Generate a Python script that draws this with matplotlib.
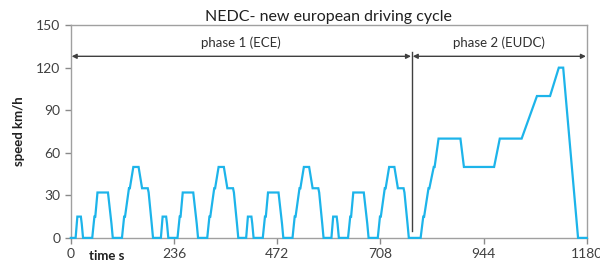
import matplotlib
matplotlib.use("Agg")
import matplotlib.pyplot as plt

# NEDC speed trace: time (s) and speed (km/h)
time_s = [
    0, 11, 15, 23, 25, 28, 49, 54, 56, 61, 85, 93, 96, 117, 122, 124, 133, 135, 143, 155, 163, 176, 178, 185, 188, 195,
    206, 210, 218, 220, 223, 244, 249, 251, 256, 280, 288, 291, 312, 317, 319, 328, 330, 338, 350, 358, 371, 373, 380, 383, 390,
    401, 405, 413, 415, 418, 439, 444, 446, 451, 475, 483, 486, 507, 512, 514, 523, 525, 533, 545, 553, 566, 568, 575, 578, 585,
    596, 600, 608, 610, 613, 634, 639, 641, 646, 670, 678, 681, 702, 707, 709, 718, 720, 728, 740, 748, 761, 763, 770, 773, 780,
    800, 806, 808, 818, 820, 830, 832, 841, 891, 899, 968, 981, 1031, 1066, 1096, 1116, 1126, 1160, 1180,
]
speed_kmh = [
    0, 0, 15, 15, 10, 0, 0, 15, 15, 32, 32, 10, 0, 0, 15, 15, 35, 35, 50, 50, 35, 35, 32, 10, 0, 0,
    0, 15, 15, 10, 0, 0, 15, 15, 32, 32, 10, 0, 0, 15, 15, 35, 35, 50, 50, 35, 35, 32, 10, 0, 0,
    0, 15, 15, 10, 0, 0, 15, 15, 32, 32, 10, 0, 0, 15, 15, 35, 35, 50, 50, 35, 35, 32, 10, 0, 0,
    0, 15, 15, 10, 0, 0, 15, 15, 32, 32, 10, 0, 0, 15, 15, 35, 35, 50, 50, 35, 35, 32, 10, 0, 0,
    0, 15, 15, 35, 35, 50, 50, 70, 70, 50, 50, 70, 70, 100, 100, 120, 120, 0, 0,
]

x_ticks = [0, 236, 472, 708, 944, 1180]
y_ticks = [0, 30, 60, 90, 120, 150]

title = "NEDC- new european driving cycle"
phase_labels = ["phase 1 (ECE)", "phase 2 (EUDC)"]
phase_bounds = [(0, 780), (780, 1180)]

plt.rcParams['font.family'] = ['Lato', 'DejaVu Sans']

fig = plt.figure(figsize=(6.0, 2.67), dpi=100)
ax = fig.add_axes([0.118, 0.109, 0.860, 0.797])

ax.plot(time_s, speed_kmh, color='#1DB4EA', lw=1.6, solid_joinstyle='miter', clip_on=False, zorder=3)

ax.set_xlim(0, 1180)
ax.set_ylim(0, 150)
ax.set_xticks(x_ticks)
ax.set_yticks(y_ticks)
ax.tick_params(colors='#8a8a8a', labelcolor='#404040', labelsize=10, length=4, width=1)
for s in ax.spines.values():
    s.set_color('#a0a0a0')
    s.set_linewidth(1.0)

ax.set_title(title, fontsize=11.5, color='#202020', pad=3)
ax.set_ylabel("speed km/h", fontsize=9.5, fontweight='bold', color='#202020', labelpad=8)
ax.text(0.035, -0.055, "time s", transform=ax.transAxes, fontsize=9.5, fontweight='bold',
        color='#202020', ha='left', va='top')

# phase arrows
arrow_y = 128
for (x0, x1), lab in zip(phase_bounds, phase_labels):
    ax.annotate('', xy=(x0 + 2, arrow_y), xytext=(x1 - 2, arrow_y),
                arrowprops=dict(arrowstyle='<|-|>', color='#404040', lw=1.0,
                                mutation_scale=7, shrinkA=0, shrinkB=0))
    ax.text((x0 + x1) / 2, arrow_y + 5, lab, ha='center', va='bottom', fontsize=9.5, color='#303030')

ax.plot([780, 780], [5, 131], color='#404040', lw=1.0)

fig.savefig("out.png", dpi=100)
